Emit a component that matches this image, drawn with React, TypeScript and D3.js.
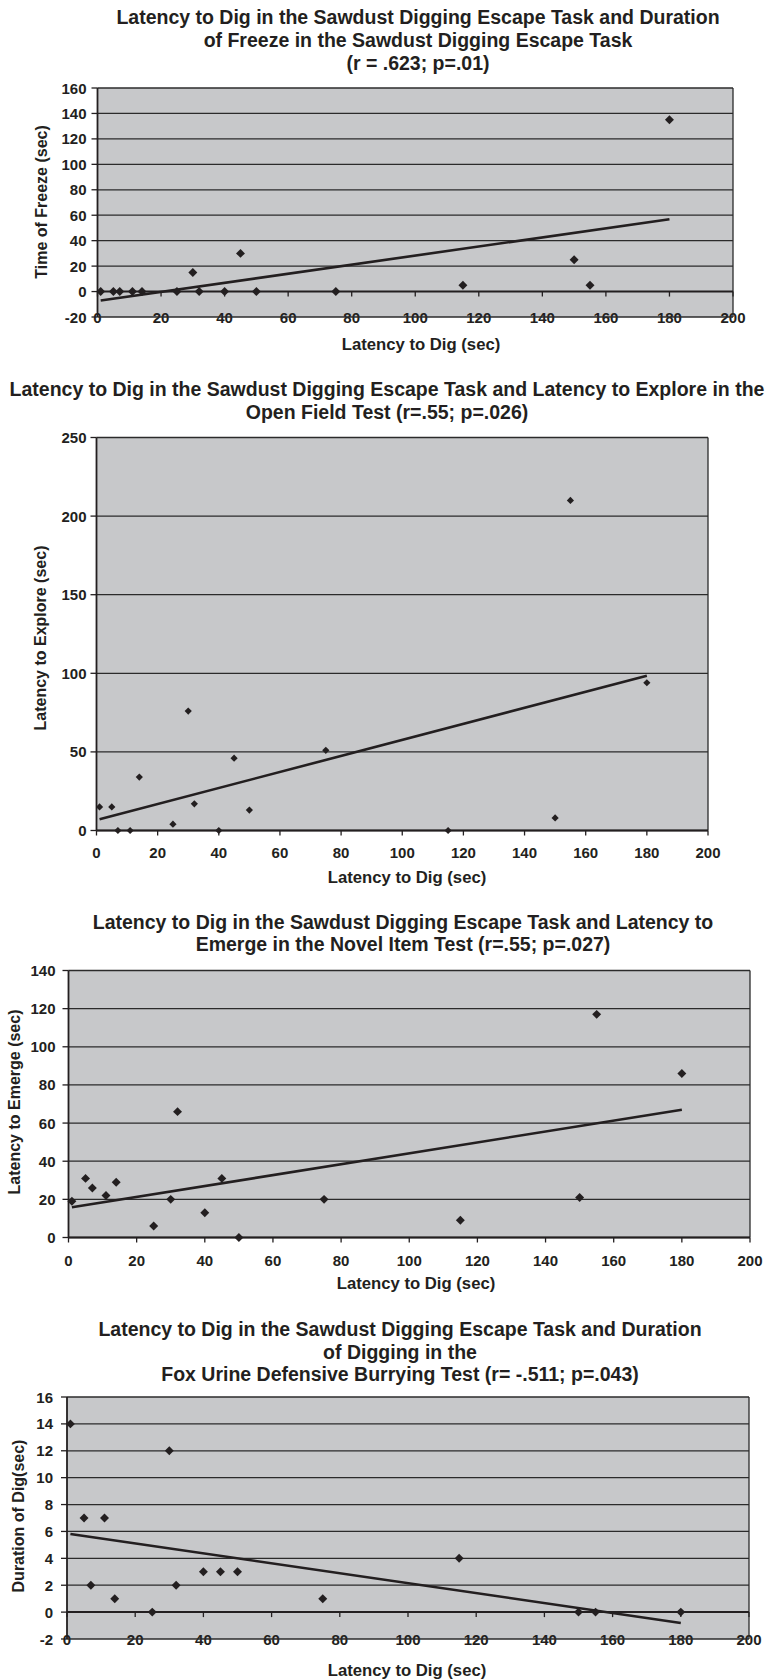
import React from "react";
import * as d3 from "d3";

// Latency to dig (sec) for the 16 animals, shared x values of all four plots
const latencyToDig = [1, 5, 7, 11, 14, 25, 30, 32, 40, 45, 50, 75, 115, 150, 155, 180];

// y values, one array per plot, same order as latencyToDig
const freezeTime = [0, 0, 0, 0, 0, 0, 15, 0, 0, 30, 0, 0, 5, 25, 5, 135];
const exploreLatency = [15, 15, 0, 0, 34, 4, 76, 17, 0, 46, 13, 51, 0, 8, 210, 94];
const emergeLatency = [19, 31, 26, 22, 29, 6, 20, 66, 13, 31, 0, 20, 9, 21, 117, 86];
const digDuration = [14, 7, 2, 7, 1, 0, 12, 2, 3, 3, 3, 1, 4, 0, 0, 0];

// tick labels
const xTicks = [0, 20, 40, 60, 80, 100, 120, 140, 160, 180, 200];
const freezeTicks = [-20, 0, 20, 40, 60, 80, 100, 120, 140, 160];
const exploreTicks = [0, 50, 100, 150, 200, 250];
const emergeTicks = [0, 20, 40, 60, 80, 100, 120, 140];
const digTicks = [-2, 0, 2, 4, 6, 8, 10, 12, 14, 16];

const titles = [
  [
    "Latency to Dig in the Sawdust Digging Escape Task and Duration",
    "of Freeze in the Sawdust Digging Escape Task",
    "(r = .623; p=.01)",
  ],
  [
    "Latency to Dig in the Sawdust Digging Escape Task and Latency to Explore in the",
    "Open Field Test (r=.55; p=.026)",
  ],
  [
    "Latency to Dig in the Sawdust Digging Escape Task and Latency to",
    "Emerge in the Novel Item Test (r=.55; p=.027)",
  ],
  [
    "Latency to Dig in the Sawdust Digging Escape Task and Duration",
    "of Digging in the",
    "Fox Urine Defensive Burrying Test (r= -.511; p=.043)",
  ],
];
const xTitle = "Latency to Dig (sec)";
const yTitles = ["Time of Freeze (sec)", "Latency to Explore (sec)", "Latency to Emerge (sec)", "Duration of Dig(sec)"];

const FONT = "'Liberation Sans', Arial, Helvetica, sans-serif";
const INK = "#231f20";
const PLOT_BG = "#c7c8ca";

type Panel = {
  title: string[];
  titleX: number;
  titleY: number[];
  yTitle: string;
  yTitleX: number;
  yTitleY: number;
  xTitleX: number;
  xTitleY: number;
  left: number;
  right: number;
  top: number;
  bottom: number;
  yTicks: number[];
  values: number[];
  axisAtZero: boolean;
  xLabelY: number;
  tickGap: number;
  marker: number;
};

const panels: Panel[] = [
  {
    title: titles[0], titleX: 418, titleY: [17, 39.5, 62.5],
    yTitle: yTitles[0], yTitleX: 41, yTitleY: 202,
    xTitleX: 421, xTitleY: 344,
    left: 97.5, right: 733, top: 88, bottom: 317,
    yTicks: freezeTicks, values: freezeTime, axisAtZero: true, xLabelY: 317, tickGap: 11, marker: 40,
  },
  {
    title: titles[1], titleX: 387, titleY: [389, 411.5],
    yTitle: yTitles[1], yTitleX: 40, yTitleY: 638,
    xTitleX: 407, xTitleY: 877,
    left: 96.5, right: 708, top: 437.5, bottom: 830.5,
    yTicks: exploreTicks, values: exploreLatency, axisAtZero: false, xLabelY: 852, tickGap: 10, marker: 26,
  },
  {
    title: titles[2], titleX: 403, titleY: [921.5, 943.5],
    yTitle: yTitles[2], yTitleX: 14, yTitleY: 1102,
    xTitleX: 416, xTitleY: 1283,
    left: 68.5, right: 750, top: 970.5, bottom: 1237.5,
    yTicks: emergeTicks, values: emergeLatency, axisAtZero: false, xLabelY: 1260, tickGap: 13, marker: 40,
  },
  {
    title: titles[3], titleX: 400, titleY: [1329, 1351.5, 1374],
    yTitle: yTitles[3], yTitleX: 18, yTitleY: 1516,
    xTitleX: 407, xTitleY: 1670,
    left: 67, right: 749, top: 1397, bottom: 1639,
    yTicks: digTicks, values: digDuration, axisAtZero: true, xLabelY: 1639, tickGap: 14, marker: 40,
  },
];

function Scatter({ p }: { p: Panel }) {
  const yDomain = d3.extent(p.yTicks) as [number, number];
  const x = d3.scaleLinear().domain([0, 200]).range([p.left, p.right]);
  const y = d3.scaleLinear().domain(yDomain).range([p.bottom, p.top]);

  // least squares trend line, drawn over the range of the data
  const mx = d3.mean(latencyToDig) as number;
  const my = d3.mean(p.values) as number;
  const sxy = d3.sum(latencyToDig, (v, i) => (v - mx) * (p.values[i] - my));
  const sxx = d3.sum(latencyToDig, (v) => (v - mx) ** 2);
  const slope = sxy / sxx;
  const icpt = my - slope * mx;
  const [x0, x1] = d3.extent(latencyToDig) as [number, number];
  const trend = d3.line()([x0, x1].map((v) => [x(v), y(icpt + slope * v)] as [number, number]));

  const axisY = p.axisAtZero ? y(0) : p.bottom;
  const diamond = d3.symbol(d3.symbolSquare, p.marker)() as string;
  const grid = p.yTicks.filter((t) => t !== yDomain[0] && t !== yDomain[1] && !(p.axisAtZero && t === 0));

  return (
    <g fontFamily={FONT} fontWeight="bold" fill={INK}>
      {p.title.map((line, i) => (
        <text key={i} x={p.titleX} y={p.titleY[i]} fontSize={19.5} textAnchor="middle" dominantBaseline="central">
          {line}
        </text>
      ))}

      <rect x={p.left} y={p.top} width={p.right - p.left} height={p.bottom - p.top} fill={PLOT_BG} />

      {grid.map((t) => (
        <line key={t} x1={p.left} x2={p.right} y1={y(t)} y2={y(t)} stroke="#2b2b2b" strokeWidth={1.3} />
      ))}

      {/* y axis */}
      {p.yTicks.map((t) => (
        <g key={t}>
          <line x1={p.left - 6} x2={p.left} y1={y(t)} y2={y(t)} stroke={INK} strokeWidth={1.3} />
          <text x={p.left - p.tickGap} y={y(t)} fontSize={15} textAnchor="end" dominantBaseline="central">
            {t}
          </text>
        </g>
      ))}

      {/* x axis */}
      {xTicks.map((t) => (
        <g key={t}>
          <line x1={x(t)} x2={x(t)} y1={axisY} y2={axisY + 5} stroke={INK} strokeWidth={1.3} />
          <text x={x(t)} y={p.xLabelY} fontSize={15} textAnchor="middle" dominantBaseline="central">
            {t}
          </text>
        </g>
      ))}

      <line x1={p.left} x2={p.right} y1={p.top} y2={p.top} stroke="#2b2b2b" strokeWidth={1.3} />
      <line x1={p.right} x2={p.right} y1={p.top} y2={p.bottom} stroke="#2b2b2b" strokeWidth={1.3} />
      <line x1={p.left} x2={p.right} y1={p.bottom} y2={p.bottom} stroke="#2b2b2b" strokeWidth={1.5} />
      <line x1={p.left} x2={p.left} y1={p.top} y2={p.bottom} stroke={INK} strokeWidth={1.8} />
      <line x1={p.left} x2={p.right} y1={axisY} y2={axisY} stroke={INK} strokeWidth={2} />

      {latencyToDig.map((v, i) => (
        <path key={i} d={diamond} transform={`translate(${x(v)},${y(p.values[i])}) rotate(45)`} fill={INK} />
      ))}

      <path d={trend ?? ""} fill="none" stroke={INK} strokeWidth={2.6} />

      <text x={p.xTitleX} y={p.xTitleY} fontSize={16.7} textAnchor="middle" dominantBaseline="central">
        {xTitle}
      </text>
      <text
        transform={`translate(${p.yTitleX},${p.yTitleY}) rotate(-90)`}
        fontSize={16}
        textAnchor="middle"
        dominantBaseline="central"
      >
        {p.yTitle}
      </text>
    </g>
  );
}

export default function App() {
  return (
    <div style={{ position: "absolute", left: 0, top: 0, background: "#fff" }}>
      <svg width={765} height={1680} style={{ display: "block" }}>
        <rect width={765} height={1680} fill="#fff" />
        {panels.map((p, i) => (
          <Scatter key={i} p={p} />
        ))}
      </svg>
    </div>
  );
}
